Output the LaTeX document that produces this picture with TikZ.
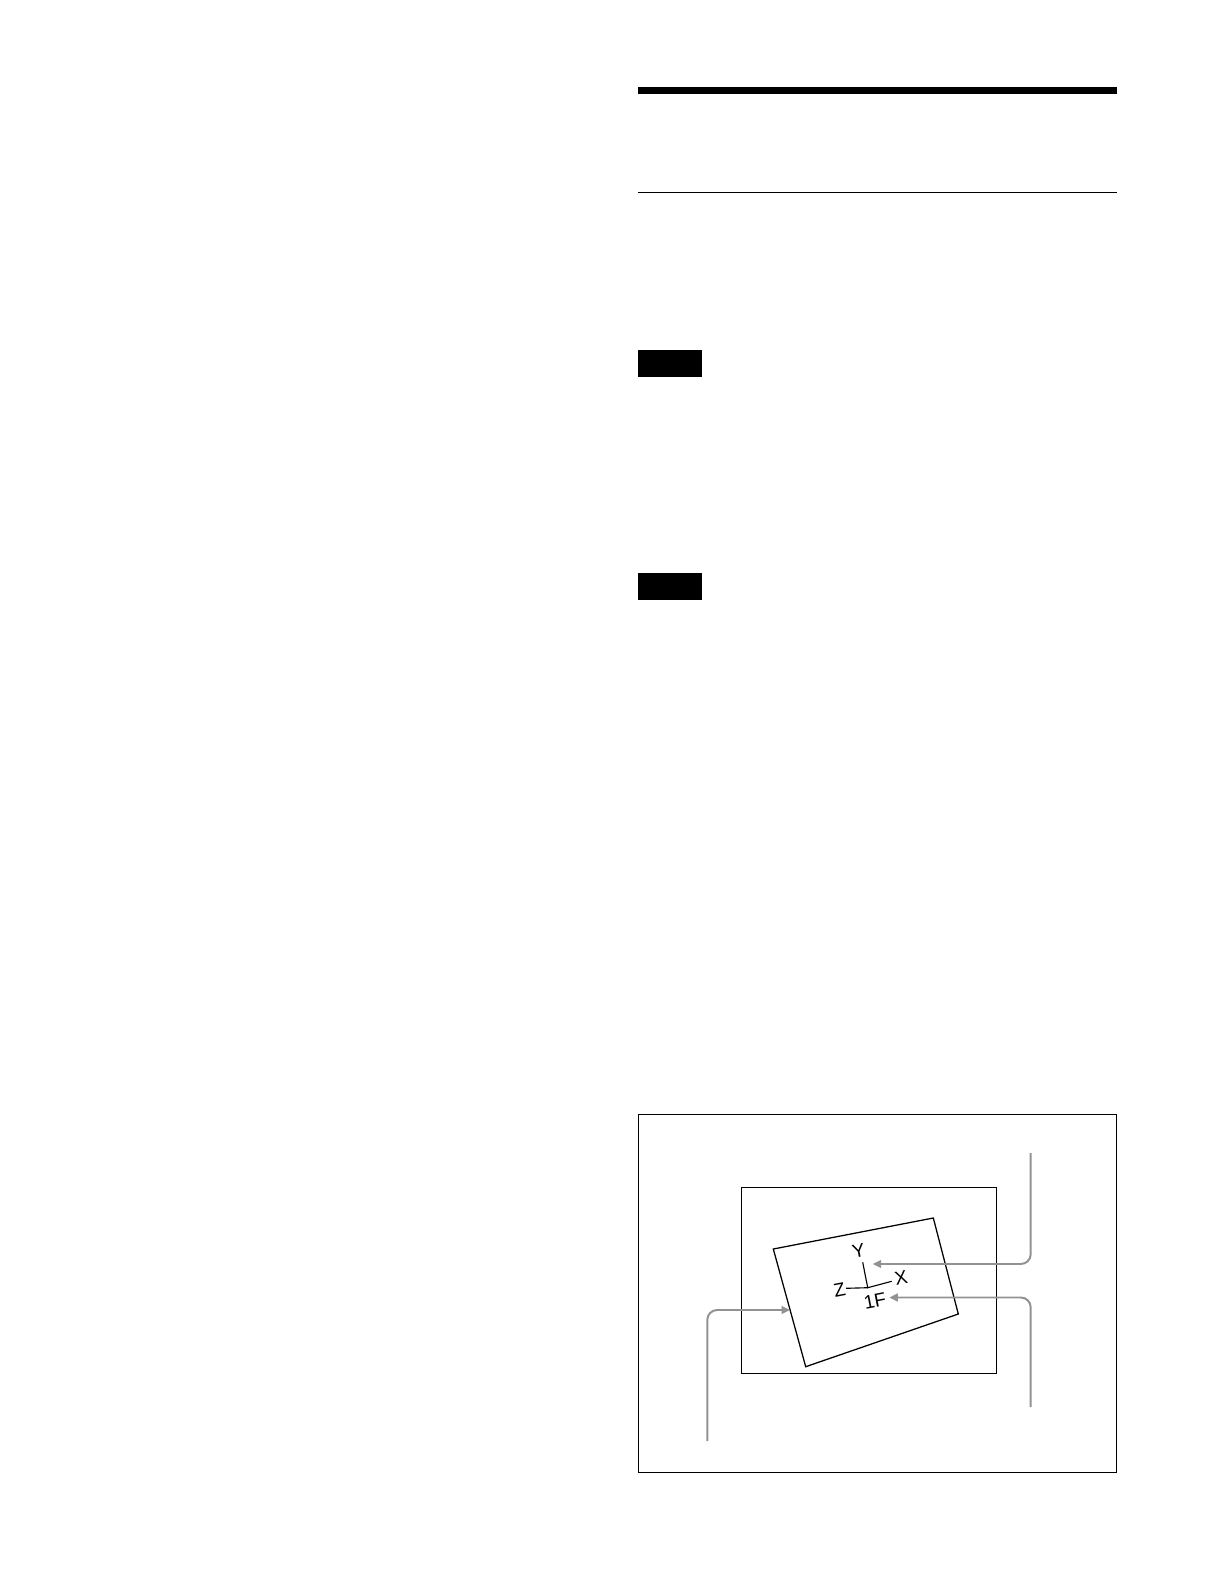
\documentclass[tikz,border=0pt]{standalone}
\usepackage{fontspec}
\setmainfont{Liberation Sans}
\usetikzlibrary{arrows.meta}
\definecolor{pfeilgrau}{RGB}{146,146,146}
\tikzset{
  rahmen/.style={line width=0.9pt},
  hinweis/.style={draw=pfeilgrau,line width=1.4pt,rounded corners=7pt,-{Triangle[length=6pt,width=5.5pt]}},
  achse/.style={font=\fontsize{13.5}{15}\selectfont,inner sep=0pt,rotate=11}
}
\begin{document}
\begin{tikzpicture}[x=0.025cm,y=-0.025cm]
	\useasboundingbox (0,0) rectangle (1218,1588);
	\fill (638,87) rectangle (1117,94);%Titelbalken
	\draw[line width=1pt] (638,192.5) -- (1117,192.5);%Trennlinie
	\fill (638,350) rectangle (702,377);%Hinweis oben
	\fill (638,573) rectangle (702,600);%Hinweis unten

	\draw[rahmen] (638.5,1114.5) rectangle (1116.5,1472.5);%Rahmen aussen
	\draw[rahmen] (741.5,1187.5) rectangle (996.5,1373.5);%Bildschirm
	\coordinate (p1) at (773.3,1249);
	\coordinate (p2) at (933.3,1218);
	\coordinate (p3) at (958.3,1314);
	\coordinate (p4) at (805.7,1366.7);
	\draw[rahmen] (p1) -- (p2) -- (p3) -- (p4) -- cycle;%gedrehtes Bild

	\coordinate (o) at (867.7,1287.7);
	\coordinate (yend) at (862.7,1262.3);
	\coordinate (zend) at (846,1288.3);
	\coordinate (xend) at (891.7,1281.3);
	\draw[line width=0.8pt] (yend) -- (o) -- (xend);%Achsen
	\draw[line width=0.8pt] (o) -- (zend);
	\node[achse] (ylab) at (858.5,1251) {Y};
	\node[achse] (zlab) at (839.5,1289.5) {Z};
	\node[achse] (xlab) at (901,1278) {X};
	\node[achse] (flab) at (875,1301) {1F};

	\coordinate (h1s) at (1030.7,1153);
	\coordinate (h1e) at (872.7,1264);
	\coordinate (h2s) at (1030.7,1407);
	\coordinate (h2e) at (889.3,1297.5);
	\coordinate (h3s) at (707.3,1441);
	\coordinate (h3e) at (790,1310);
	\draw[hinweis] (h1s) |- (h1e);
	\draw[hinweis] (h2s) |- (h2e);
	\draw[hinweis] (h3s) |- (h3e);
\end{tikzpicture}
\end{document}
